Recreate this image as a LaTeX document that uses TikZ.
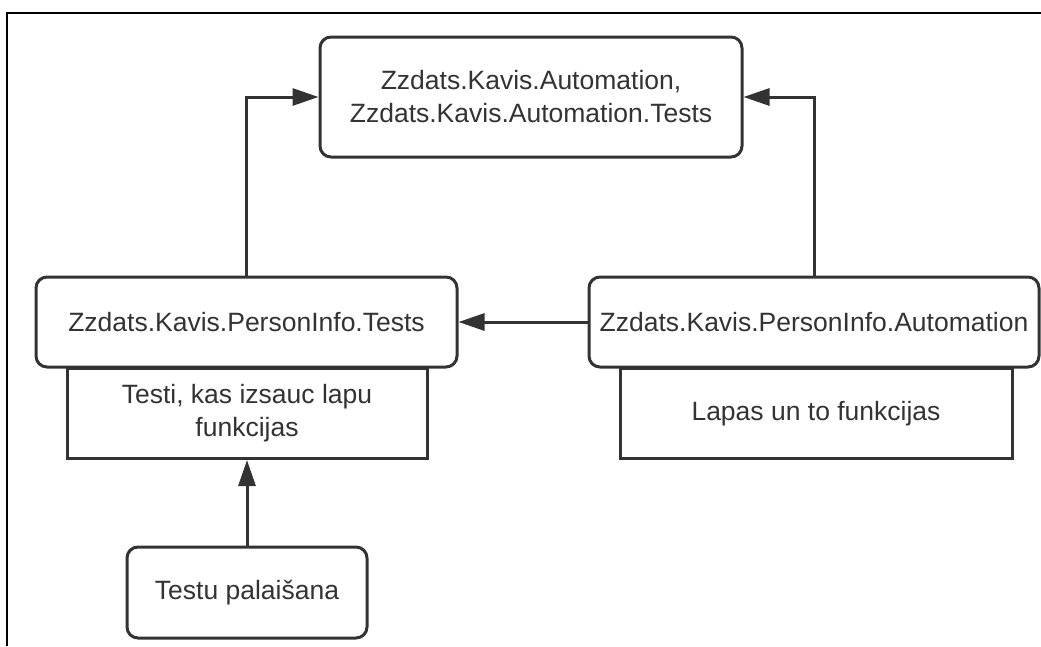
\documentclass[tikz,border=0pt]{standalone}
\usepackage{fontspec}
\setmainfont{Liberation Sans}
\usetikzlibrary{arrows.meta}
\definecolor{ink}{HTML}{333333}
\begin{document}
\begin{tikzpicture}[x=1pt,y=-1pt,
  every node/.style={font=\fontsize{26.5}{33}\selectfont, text=ink, inner sep=0pt, align=center},
  module/.style={draw=ink, line width=3pt, rounded corners=11pt, fill=white},
  note/.style={draw=ink, line width=3pt, fill=white},
  link/.style={draw=ink, line width=3pt, -{Triangle[length=26pt,width=17pt]}}]
  \useasboundingbox (0,0) rectangle (1041,646);
  % outer frame (top and left edges)
  \draw[line width=2.5pt] (7,646) -- (7,13) -- (1041,13);

  % modules
  \node[module, minimum width=422pt, minimum height=120pt] (core) at (531,97)
    {Zzdats.Kavis.Automation,\\Zzdats.Kavis.Automation.Tests};
  \node[module, minimum width=421pt, minimum height=90pt] (tests) at (246.5,322)
    {Zzdats.Kavis.PersonInfo.Tests};
  \node[module, minimum width=450pt, minimum height=90pt] (auto) at (814,322)
    {Zzdats.Kavis.PersonInfo.Automation};

  % descriptions below the modules
  \node[note, minimum width=360pt, minimum height=90pt, anchor=north] (testsnote) at (247,367)
    {Testi, kas izsauc lapu\\funkcijas};
  \node[note, minimum width=392pt, minimum height=90pt, anchor=north] (autonote) at (816,367)
    {Lapas un to funkcijas};

  % test runner
  \node[module, minimum width=240pt, minimum height=91pt] (run) at (247,592.5)
    {Testu palaišana};

  % dependencies
  \draw[link] (tests.north) |- (core.west);
  \draw[link] (auto.north) |- (core.east);
  \draw[link] (auto.west) -- (tests.east);
  \draw[link] (run.north) -- (testsnote.south);
\end{tikzpicture}
\end{document}
